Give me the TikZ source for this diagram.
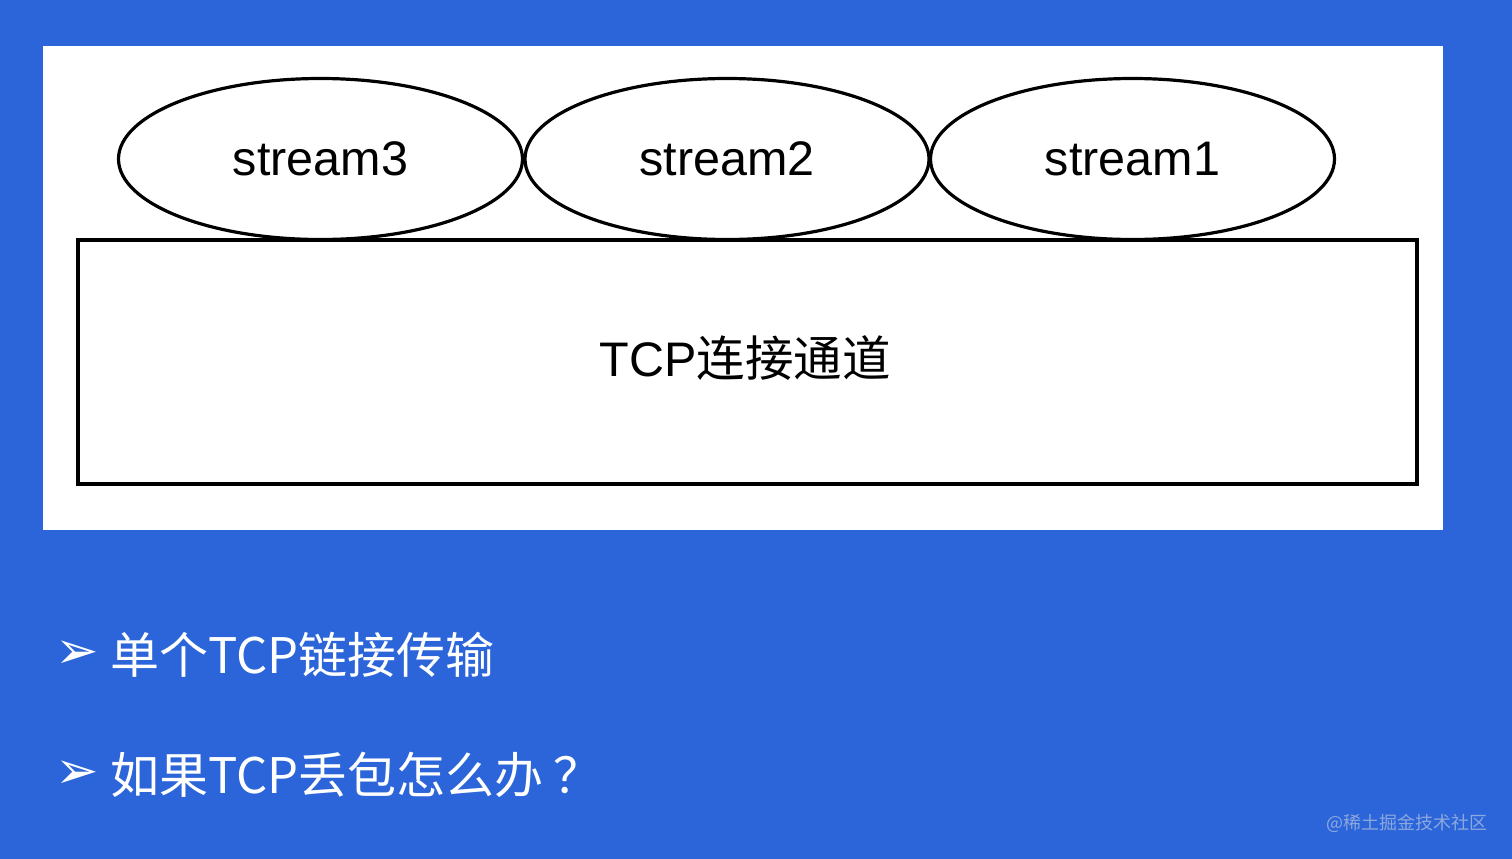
\documentclass[tikz,border=0pt]{standalone}
\usepackage{fontspec}
\setmainfont{Liberation Sans}
\newfontfamily\cjk{Noto Sans CJK SC}
\newfontfamily\dejavu{DejaVu Sans}
\usetikzlibrary{shapes.geometric}
\definecolor{bgblue}{RGB}{43,101,217}
\definecolor{wmark}{RGB}{140,168,222}
\tikzset{
  streamnode/.style={ellipse,draw=black,line width=3.2pt,fill=white,minimum width=404pt,minimum height=161pt,inner sep=0pt,font=\fontsize{48.5}{50}\selectfont},
  chanbox/.style={rectangle,draw=black,line width=3.2pt,fill=white,minimum width=1339pt,minimum height=244pt,inner sep=0pt},
  bulletmark/.style={text=white,font=\dejavu\fontsize{52}{56}\selectfont,inner sep=0pt},
  bullettext/.style={text=white,font=\cjk\fontsize{49}{52}\selectfont,inner sep=0pt,anchor=west}
}
\begin{document}
\begin{tikzpicture}[x=1pt,y=-1pt]
\useasboundingbox (0,0) rectangle (1512,859);
\fill[bgblue] (0,0) rectangle (1512,859);
\fill[white] (43,46) rectangle (1443,530);
\node[chanbox] (chan) at (747.5,362) {};
\node[font=\fontsize{48.5}{50}\selectfont] (chanlabel) at (745,358) {TCP{\cjk 连接通道}};
\node[streamnode] (s3) at (320.5,159) {stream3};
\node[streamnode] (s2) at (727,159) {stream2};
\node[streamnode] (s1) at (1132.5,159) {stream1};
\node[bulletmark] (b1) at (77,655) {➢};
\node[bullettext] (t1) at (110,655) {单个TCP链接传输};
\node[bulletmark] (b2) at (77,775) {➢};
\node[bullettext] (t2) at (110,775) {如果TCP丢包怎么办\hspace{10pt}？};
\node[text=wmark,font=\cjk\fontsize{18}{20}\selectfont,inner sep=0pt,anchor=east] (wm) at (1488,823) {@稀土掘金技术社区};
\end{tikzpicture}
\end{document}
